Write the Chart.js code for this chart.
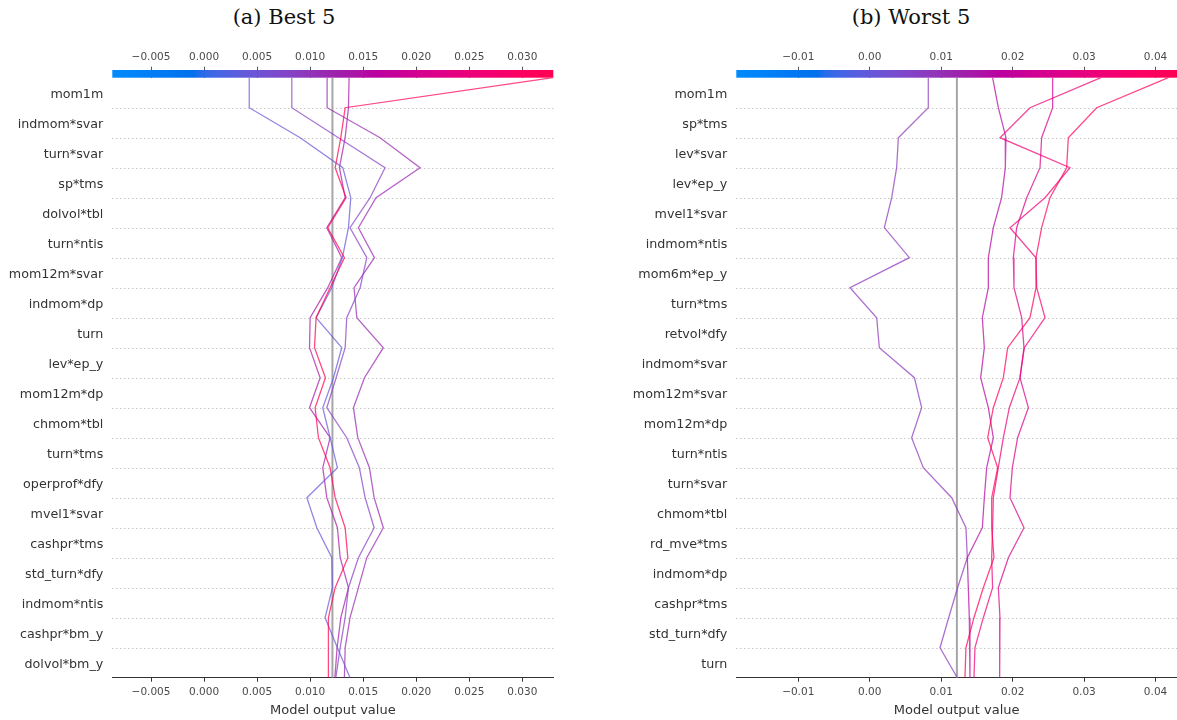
<!DOCTYPE html>
<html>
<head>
<meta charset="utf-8">
<script src="https://cdn.jsdelivr.net/npm/chart.js@4/dist/chart.umd.min.js"></script>
<style>
  html, body { margin: 0; padding: 0; background: #ffffff; }
  body { width: 1177px; height: 720px; position: relative; overflow: hidden; }
  .panel { position: absolute; top: 0; height: 720px; }
  .title {
    position: absolute; top: 5px; line-height: 24px;
    font-family: 'DejaVu Serif', serif; font-size: 21px; color: #111;
    white-space: nowrap; transform: translateX(-50%);
  }
</style>
</head>
<body>
<div class="title" style="left:284px">(a) Best 5</div>
<div class="title" style="left:911px">(b) Worst 5</div>
<div class="panel" style="left:0px;width:580px"><canvas id="best"></canvas></div>
<div class="panel" style="left:590px;width:587px"><canvas id="worst"></canvas></div>

<script>
// ---- Panel (a): best 5 observations ----
const bestFeatures = ['mom1m', 'indmom*svar', 'turn*svar', 'sp*tms', 'dolvol*tbl', 'turn*ntis',
  'mom12m*svar', 'indmom*dp', 'turn', 'lev*ep_y', 'mom12m*dp', 'chmom*tbl', 'turn*tms',
  'operprof*dfy', 'mvel1*svar', 'cashpr*tms', 'std_turn*dfy', 'indmom*ntis', 'cashpr*bm_y', 'dolvol*bm_y'];

// cumulative model output at each row boundary, from the top (prediction) down to the bottom
const bestObs1 = [0.03288, 0.01330, 0.01289, 0.01236, 0.01339, 0.01166, 0.01323, 0.01188, 0.01056, 0.01041, 0.01144,
  0.01047, 0.01078, 0.01188, 0.01236, 0.01330, 0.01355, 0.01236, 0.01172, 0.01172, 0.01172];
const bestObs2 = [0.00426, 0.00426, 0.00906, 0.01308, 0.01383, 0.01361, 0.01304, 0.01204, 0.01056, 0.01298, 0.01220,
  0.01119, 0.01188, 0.01257, 0.00969, 0.01063, 0.01204, 0.01210, 0.01141, 0.01257, 0.01376];
const bestObs3 = [0.00827, 0.00827, 0.01267, 0.01706, 0.01565, 0.01376, 0.01534, 0.01471, 0.01345, 0.01330, 0.01245,
  0.01157, 0.01345, 0.01464, 0.01518, 0.01603, 0.01455, 0.01361, 0.01330, 0.01283, 0.01242];
const bestObs4 = [0.01160, 0.01160, 0.01659, 0.02036, 0.01621, 0.01455, 0.01606, 0.01414, 0.01440, 0.01690, 0.01512,
  0.01408, 0.01449, 0.01559, 0.01603, 0.01690, 0.01534, 0.01455, 0.01376, 0.01330, 0.01323];
const bestObs5 = [0.01367, 0.01361, 0.01330, 0.01276, 0.01330, 0.01157, 0.01298, 0.01166, 0.01000, 0.00994, 0.01094,
  0.00994, 0.01188, 0.01119, 0.01157, 0.01257, 0.01283, 0.01361, 0.01289, 0.01254, 0.01233];
const bestBase = 0.0121;
const bestRange = [-0.00865, 0.03292];
const bestTicks = [-0.005, 0.000, 0.005, 0.010, 0.015, 0.020, 0.025, 0.030];

// ---- Panel (b): worst 5 observations ----
const worstFeatures = ['mom1m', 'sp*tms', 'lev*svar', 'lev*ep_y', 'mvel1*svar', 'indmom*ntis', 'mom6m*ep_y',
  'turn*tms', 'retvol*dfy', 'indmom*svar', 'mom12m*svar', 'mom12m*dp', 'turn*ntis', 'turn*svar', 'chmom*tbl',
  'rd_mve*tms', 'indmom*dp', 'cashpr*tms', 'std_turn*dfy', 'turn'];

const worstObs1 = [0.04179, 0.03176, 0.02779, 0.02756, 0.02523, 0.02406, 0.02327, 0.02327, 0.02243, 0.01931, 0.01870,
  0.01730, 0.01651, 0.01791, 0.01707, 0.01707, 0.01739, 0.01590, 0.01459, 0.01347, 0.01333];
const worstObs2 = [0.03236, 0.02243, 0.01823, 0.02803, 0.02453, 0.01963, 0.02327, 0.02337, 0.02453, 0.02164, 0.02103,
  0.01954, 0.01870, 0.01800, 0.01730, 0.01720, 0.01707, 0.01720, 0.01590, 0.01473, 0.01459];
const worstObs3 = [0.02560, 0.02560, 0.02406, 0.02383, 0.02197, 0.02056, 0.02010, 0.02019, 0.02127, 0.02159, 0.02103,
  0.02220, 0.02070, 0.01996, 0.01963, 0.02159, 0.01940, 0.01800, 0.01823, 0.01823, 0.01814];
const worstObs4 = [0.01720, 0.01800, 0.01907, 0.01898, 0.01846, 0.01730, 0.01660, 0.01660, 0.01576, 0.01604, 0.01553,
  0.01660, 0.01730, 0.01637, 0.01604, 0.01576, 0.01366, 0.01380, 0.01394, 0.01403, 0.01403];
const worstObs5 = [0.00820, 0.00820, 0.00401, 0.00377, 0.00308, 0.00205, 0.00555, -0.00276, 0.00098, 0.00135, 0.00625,
  0.00727, 0.00587, 0.00750, 0.01147, 0.01347, 0.01366, 0.01230, 0.01105, 0.00984, 0.01226];
const worstBase = 0.0122;
const worstRange = [-0.018665, 0.0430];
const worstTicks = [-0.01, 0.00, 0.01, 0.02, 0.03, 0.04];

// ---- red/blue colour map, interpolated in LCh and clipped to sRGB ----
function lch2rgb(L, C, H) {
  const a = C * Math.cos(H), b = C * Math.sin(H);
  const fy = (L + 16) / 116, fx = fy + a / 500, fz = fy - b / 200;
  const finv = t => (t * t * t > 0.008856 ? t * t * t : (t - 16 / 116) / 7.787);
  const X = 0.95047 * finv(fx), Y = finv(fy), Z = 1.08883 * Math.max(0, finv(fz));
  const lin = [
    3.2406 * X - 1.5372 * Y - 0.4986 * Z,
    -0.9689 * X + 1.8758 * Y + 0.0415 * Z,
    0.0557 * X - 0.2040 * Y + 1.0570 * Z
  ];
  return lin.map(c => {
    const g = c > 0.0031308 ? 1.055 * Math.pow(c, 1 / 2.4) - 0.055 : 12.92 * c;
    return Math.round(255 * Math.min(1, Math.max(0, g)));
  });
}
function redBlue(t) {
  t = Math.min(1, Math.max(0, t));
  const i = t * 99;
  const L = i <= 49 ? 54 - 14 * i / 49 : (i >= 50 ? 40 + 14 * (i - 50) / 49 : 40);
  const C = 70 + 20 * t;
  const H = 4.6588 + t * (0.35470565 + 2 * Math.PI - 4.6588);
  return lch2rgb(L, C, H);
}
const rgba = (c, a) => `rgba(${c[0]},${c[1]},${c[2]},${a})`;

const fmt = d => v => (v < 0 ? '\u2212' : '') + Math.abs(v).toFixed(d);

// colour bar above the plot, dotted row separators
const decisionDecor = {
  id: 'decisionDecor',
  beforeDatasetsDraw(chart) {
    const {ctx, chartArea: ca, scales: {y}} = chart;
    ctx.save();
    ctx.strokeStyle = 'rgba(120,120,120,0.75)';
    ctx.lineWidth = 0.8;
    ctx.setLineDash([1, 3]);
    for (let k = 1; k < 20; k++) {
      const py = Math.round(y.getPixelForValue(k)) + 0.5;
      ctx.beginPath();
      ctx.moveTo(ca.left, py);
      ctx.lineTo(ca.right, py);
      ctx.stroke();
    }
    ctx.restore();
  },
  afterDraw(chart) {
    const {ctx, chartArea: ca} = chart;
    const g = ctx.createLinearGradient(ca.left, 0, ca.right, 0);
    for (let s = 0; s <= 60; s++) g.addColorStop(s / 60, rgba(redBlue(s / 60), 1));
    ctx.save();
    ctx.fillStyle = g;
    ctx.fillRect(ca.left, ca.top - 7.7, ca.right - ca.left, 7.7);
    ctx.restore();
  }
};

function buildChart(id, features, series, base, range, ticks, decimals, yWidth, padRight) {
  const [xmin, xmax] = range;
  const datasets = series.map(vals => {
    const c = redBlue((vals[0] - xmin) / (xmax - xmin));
    return {
      data: vals.map((x, k) => ({x, y: k})),
      borderColor: rgba(c, 0.72),
      borderWidth: 1.3,
      pointRadius: 0,
      tension: 0,
      fill: false,
      order: 1
    };
  });
  datasets.push({
    data: [{x: base, y: 0}, {x: base, y: 20}],
    borderColor: '#a6a6a6',
    borderWidth: 2,
    pointRadius: 0,
    fill: false,
    order: 5
  });
  const tickFont = {family: 'DejaVu Sans', size: 10.5};
  const setTicks = s => { s.ticks = ticks.map(v => ({value: v})); };
  return new Chart(document.getElementById(id), {
    type: 'line',
    data: {datasets},
    plugins: [decisionDecor],
    options: {
      responsive: true,
      maintainAspectRatio: false,
      devicePixelRatio: 1,
      animation: false,
      layout: {padding: {left: 0, right: padRight, top: 0, bottom: 0}},
      plugins: {legend: {display: false}, tooltip: {enabled: false}, title: {display: false}},
      scales: {
        x: {
          type: 'linear', position: 'bottom', min: xmin, max: xmax,
          afterBuildTicks: setTicks,
          afterFit: s => { s.height = 42.3; },
          grid: {drawOnChartArea: false, drawTicks: true, tickLength: 4, color: '#333', lineWidth: 1},
          border: {display: true, color: '#333', width: 1},
          ticks: {callback: fmt(decimals), color: '#4a4a4a', font: tickFont, padding: 4, autoSkip: false, maxRotation: 0},
          title: {display: true, text: 'Model output value', color: '#333',
                  font: {family: 'DejaVu Sans', size: 13}, padding: {top: 0, bottom: 2}}
        },
        xTop: {
          type: 'linear', position: 'top', min: xmin, max: xmax,
          afterBuildTicks: setTicks,
          afterFit: s => { s.height = 77.7; },
          grid: {drawOnChartArea: false, drawTicks: true, tickLength: 11, color: '#555', lineWidth: 1},
          border: {display: false},
          ticks: {callback: fmt(decimals), color: '#4a4a4a', font: tickFont, padding: 3.5, autoSkip: false, maxRotation: 0}
        },
        y: {
          type: 'linear', min: 0, max: 20, reverse: true,
          afterBuildTicks: s => { s.ticks = features.map((_, i) => ({value: i + 0.5})); },
          afterFit: s => { s.width = yWidth; },
          grid: {display: false, drawTicks: false},
          border: {display: false},
          ticks: {callback: v => features[Math.floor(v)], color: '#333', autoSkip: false,
                  font: {family: 'DejaVu Sans', size: 12.7}, padding: 9, labelOffset: 1.5}
        }
      }
    }
  });
}

buildChart('best', bestFeatures, [bestObs1, bestObs2, bestObs3, bestObs4, bestObs5],
  bestBase, bestRange, bestTicks, 3, 112.3, 26.7);
buildChart('worst', worstFeatures, [worstObs1, worstObs2, worstObs3, worstObs4, worstObs5],
  worstBase, worstRange, worstTicks, 2, 146.3, 0);
</script>
</body>
</html>
